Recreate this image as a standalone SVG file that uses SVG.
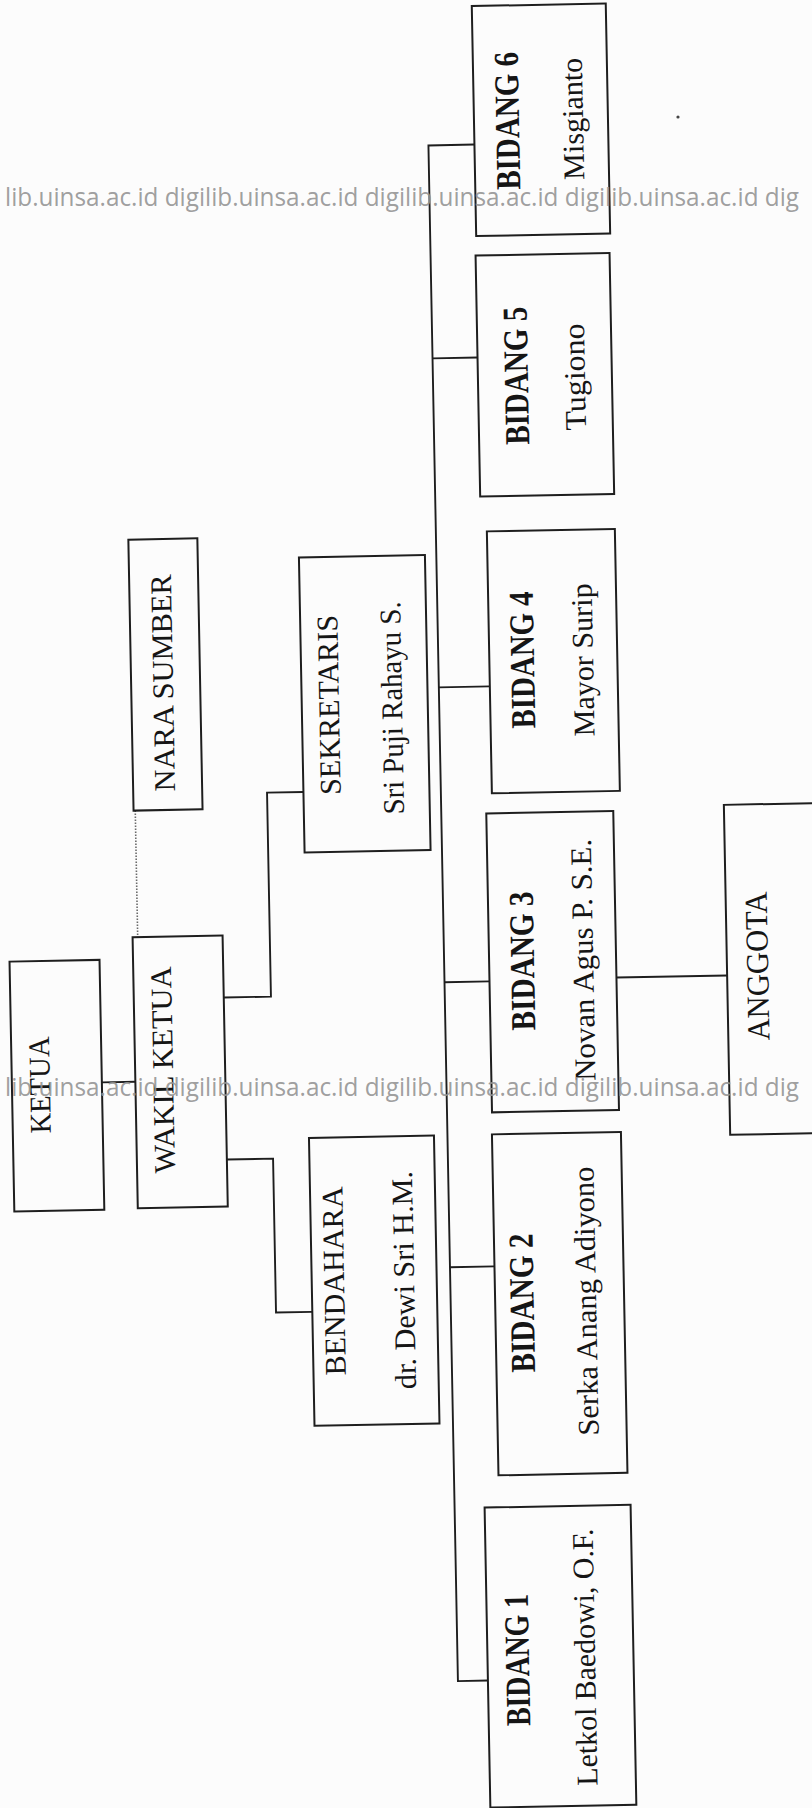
<svg xmlns="http://www.w3.org/2000/svg" width="812" height="1808" viewBox="0 0 812 1808">
<style>
.bx{fill:none;stroke:#1e1e1e;stroke-width:2}
.cn{fill:none;stroke:#1e1e1e;stroke-width:1.9}
.dot{fill:none;stroke:#6a6a6a;stroke-width:1.6;stroke-dasharray:1.5 1.5}
.t{font-family:"Liberation Serif","Times New Roman",serif;font-size:30px;fill:#151515;text-anchor:middle}
.b{font-weight:bold;font-size:35px}
.wm{font-family:"Open Sans","Noto Sans",sans-serif;font-size:25px;fill:#939393;fill-opacity:0.9}
</style>
<rect width="812" height="1808" fill="#fcfcfc"/>
<g transform="rotate(-1.1 406 904)">
<g id="connectors">
<path class="cn" d="M489,146 H443 V1682 H473"/>
<path class="cn" d="M443,359 H488"/>
<path class="cn" d="M443,688 H494"/>
<path class="cn" d="M443,983 H488"/>
<path class="cn" d="M443,1268 H487.5"/>
<path class="cn" d="M615,981.6 H725.7"/>
<path class="cn" d="M98.5,1076.5 H132"/>
<path class="cn" d="M222,994 H269.2 V790 H305.6"/>
<path class="cn" d="M222,1156 H268.2 V1310 H304.5"/>
<path class="dot" d="M137.1,805.4 V931.7"/>
</g>
<g id="ketua">
<rect class="bx" x="8.5" y="954" width="90" height="250"/>
<text class="t" transform="translate(46.5,1078) rotate(-90)" textLength="97" lengthAdjust="spacingAndGlyphs">KETUA</text>
</g>
<g id="wakil-ketua">
<rect class="bx" x="132" y="932" width="90" height="271"/>
<text class="t" transform="translate(169.8,1065.3) rotate(-90)" textLength="207" lengthAdjust="spacingAndGlyphs">WAKIL KETUA</text>
</g>
<g id="nara-sumber">
<rect class="bx" x="135.4" y="534.4" width="69" height="271"/>
<text class="t" transform="translate(177.2,678.3) rotate(-90)" textLength="217" lengthAdjust="spacingAndGlyphs">NARA SUMBER</text>
</g>
<g id="sekretaris">
<rect class="bx" x="305.6" y="555.5" width="126" height="295"/>
<text class="t" transform="translate(342.8,703.5) rotate(-90)" textLength="180" lengthAdjust="spacingAndGlyphs">SEKRETARIS</text>
<text class="t" transform="translate(405.8,707.8) rotate(-90)" textLength="213" lengthAdjust="spacingAndGlyphs">Sri Puji Rahayu S.</text>
</g>
<g id="bendahara">
<rect class="bx" x="304.5" y="1136" width="125" height="288"/>
<text class="t" transform="translate(336.8,1279.6) rotate(-90)" textLength="189" lengthAdjust="spacingAndGlyphs">BENDAHARA</text>
<text class="t" transform="translate(406.8,1280) rotate(-90)" textLength="218" lengthAdjust="spacingAndGlyphs">dr. Dewi Sri H.M.</text>
</g>
<g id="bidang6">
<rect class="bx" x="489" y="7.5" width="134" height="230"/>
<text class="t b" transform="translate(534,122.9) rotate(-90)" textLength="138" lengthAdjust="spacingAndGlyphs">BIDANG 6</text>
<text class="t" transform="translate(598,122.2) rotate(-90)" textLength="122" lengthAdjust="spacingAndGlyphs">Misgianto</text>
</g>
<g id="bidang5">
<rect class="bx" x="488" y="257" width="134" height="241"/>
<text class="t b" transform="translate(538,378) rotate(-90)" textLength="138" lengthAdjust="spacingAndGlyphs">BIDANG 5</text>
<text class="t" transform="translate(595,380.3) rotate(-90)" textLength="107" lengthAdjust="spacingAndGlyphs">Tugiono</text>
</g>
<g id="bidang4">
<rect class="bx" x="494" y="533" width="128" height="262"/>
<text class="t b" transform="translate(538.7,662.2) rotate(-90)" textLength="137" lengthAdjust="spacingAndGlyphs">BIDANG 4</text>
<text class="t" transform="translate(597.7,663.4) rotate(-90)" textLength="153" lengthAdjust="spacingAndGlyphs">Mayor Surip</text>
</g>
<g id="bidang3">
<rect class="bx" x="488" y="815" width="127" height="299"/>
<text class="t b" transform="translate(532.9,963.2) rotate(-90)" textLength="139" lengthAdjust="spacingAndGlyphs">BIDANG 3</text>
<text class="t" transform="translate(592,963.4) rotate(-90)" textLength="242" lengthAdjust="spacingAndGlyphs">Novan Agus P. S.E.</text>
</g>
<g id="bidang2">
<rect class="bx" x="487.5" y="1136" width="129" height="341"/>
<text class="t b" transform="translate(526,1305.2) rotate(-90)" textLength="139" lengthAdjust="spacingAndGlyphs">BIDANG 2</text>
<text class="t" transform="translate(588.4,1304.5) rotate(-90)" textLength="269" lengthAdjust="spacingAndGlyphs">Serka Anang Adiyono</text>
</g>
<g id="bidang1">
<rect class="bx" x="473" y="1509" width="146" height="300"/>
<text class="t b" transform="translate(514.5,1662) rotate(-90)" textLength="132" lengthAdjust="spacingAndGlyphs">BIDANG 1</text>
<text class="t" transform="translate(580.5,1660.4) rotate(-90)" textLength="257" lengthAdjust="spacingAndGlyphs">Letkol Baedowi, O.F.</text>
</g>
<g id="anggota">
<rect class="bx" x="725.7" y="811" width="130" height="330"/>
<text class="t" transform="translate(766.8,972.7) rotate(-90)" textLength="149" lengthAdjust="spacingAndGlyphs" style="font-size:32px">ANGGOTA</text>
</g>
</g>
<circle cx="678" cy="117" r="1.6" fill="#444"/>
<g id="watermark">
<text class="wm" x="5" y="206" textLength="794" lengthAdjust="spacingAndGlyphs">lib.uinsa.ac.id digilib.uinsa.ac.id digilib.uinsa.ac.id digilib.uinsa.ac.id dig</text>
<text class="wm" x="5" y="1096" textLength="794" lengthAdjust="spacingAndGlyphs">lib.uinsa.ac.id digilib.uinsa.ac.id digilib.uinsa.ac.id digilib.uinsa.ac.id dig</text>
</g>
</svg>
